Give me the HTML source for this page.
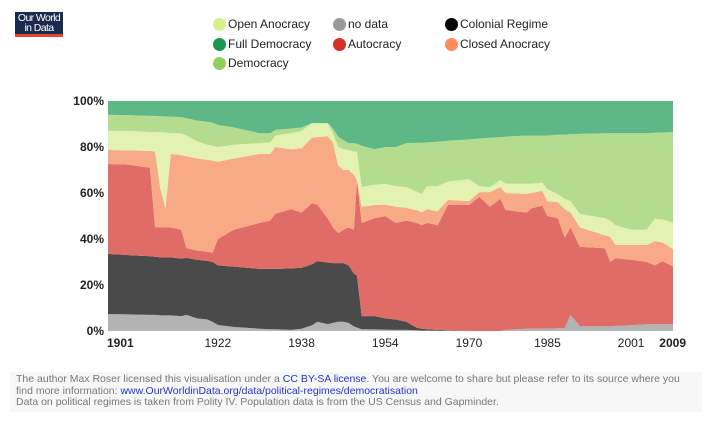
<!DOCTYPE html>
<html><head><meta charset="utf-8"><style>
body{margin:0;width:716px;height:432px;background:#fff;font-family:"Liberation Sans",sans-serif;overflow:hidden;position:relative}
.logo{position:absolute;left:15px;top:12px;width:48px;height:25px;background:#1a2a4f;border-bottom:3px solid #e6452b;color:#fff;font-size:10.5px;line-height:9.5px;text-align:center;letter-spacing:-0.6px;padding-top:2px;box-sizing:border-box}
.leg{position:absolute;font-size:12px;color:#222;display:flex;align-items:center;height:14px}
.leg i{display:inline-block;width:13px;height:13px;border-radius:50%;margin-right:2px}
.foot{position:absolute;left:10px;top:372px;width:692px;height:40px;background:#f7f7f7;font-size:10.5px;color:#777;line-height:11.5px;padding:2px 20px 2px 6px;box-sizing:border-box}
.foot a{color:#2233cc;text-decoration:none}
</style></head><body>
<div class="logo">Our World<br>in Data</div>
<div class="leg" style="left:213px;top:17px"><i style="background:#d9ef8b"></i>Open Anocracy</div>
<div class="leg" style="left:333px;top:17px"><i style="background:#999"></i>no data</div>
<div class="leg" style="left:445px;top:17px"><i style="background:#000"></i>Colonial Regime</div>
<div class="leg" style="left:213px;top:37px"><i style="background:#1a9850"></i>Full Democracy</div>
<div class="leg" style="left:333px;top:37px"><i style="background:#d73027"></i>Autocracy</div>
<div class="leg" style="left:445px;top:37px"><i style="background:#fc8d59"></i>Closed Anocracy</div>
<div class="leg" style="left:213px;top:56px"><i style="background:#91cf60"></i>Democracy</div>
<svg id="chart" width="716" height="432" style="position:absolute;left:0;top:0"></svg>
<div class="foot">The author Max Roser licensed this visualisation under a <a>CC BY-SA license</a>. You are welcome to share but please refer to its source where you find more information: <a>www.OurWorldinData.org/data/political-regimes/democratisation</a><br>Data on political regimes is taken from Polity IV. Population data is from the US Census and Gapminder.</div>
<script>
const years=[1901,1905,1909,1910,1911,1912,1913,1915,1916,1918,1920,1921,1922,1925,1930,1932,1933,1936,1938,1940,1941,1943,1944,1945,1946,1947,1948,1948.6,1949.5,1952,1954,1956,1958,1960,1961,1962,1964,1966,1970,1972,1974,1976,1977,1981,1982,1984,1985,1987,1988.3,1989.4,1991.2,1996,1997,1998,2001,2004,2005.5,2007,2009];
const noData=[7.4,7.2,7,7,6.8,6.8,6.8,6.5,7,5.5,5,4,2.6,1.8,1,0.8,0.8,0.5,1,2.5,4,3,3.5,4,4,3.5,2,1.5,0.8,0.7,0.6,0.5,0.5,0.3,0.2,0.2,0.1,0.1,0,0,0,0,0.5,1,1,1,1,1.2,1.2,7,2,2,2,2.2,2.5,3,3,3,3];
const colonial=[26.1,25.8,25.5,25.3,25.2,25.2,25.2,25,24.8,25.5,25.5,26,25.9,26.2,26,26.2,26.2,26.7,26.5,26.5,26.4,26.8,26,25.5,25.5,25,23,22.5,5.7,5.8,4.9,4.5,3.5,1.2,0.8,0.6,0.4,0.2,0,0,0,0,0,0,0,0,0,0,0,0,0,0,0,0,0,0,0,0,0];
const autocracy=[39.1,39.3,38.5,12.7,13,13,13,12.5,4.2,4,4,4,11.5,16,20,21,24,25.8,24,26.6,24.6,19.2,15.5,13.1,14.5,16.5,19,41.6,40.5,42.5,44.5,42,44,45.5,45,46.2,45.5,54.5,54.8,58.4,54,57.5,52.1,50.5,52.4,53.5,49,47.8,39.4,38,34.6,34,28,29.4,28.5,27,25.5,27.4,25];
const closedAnocracy=[6.1,6.2,7.3,33,17,8.5,32,32.5,40,40,40,40,33.6,31,30,29,29,26,28,28.4,29.3,35.6,37,29.4,26,25,24,0,7,5.8,5,7,5.6,5.5,5.6,6,6,2.2,1.7,2,6.4,5.1,7.4,8.1,6.6,6.5,6.5,7,12.4,6.6,8.4,5.6,11,5.8,6.4,7.4,10.5,8.1,7.6];
const openAnocracy=[8.3,8.5,8.2,8.5,24.5,32.8,9,9.5,9,7.5,6.5,6.5,6.4,6,4.7,5,5,7,7.5,6.4,6.1,5.8,4,8,9,8.7,10,12.4,8.6,8.7,9,9,9,8,8,10,11,8,9.5,2.6,2.1,3.1,4,4.4,4,3.6,5.1,3.5,4.5,4.9,5.9,7.4,7,8.6,6.6,6.6,9.8,10,11.4];
const democracy=[7,6.8,7,7,6.9,7,7.2,7,7.5,9,10,10,9.6,7.5,4.3,4,2.5,2,1.5,0,0,0,2,4.5,4,3,3.7,3.5,17.9,15.5,16,17,19.1,21.3,22.2,19,19.3,17.7,17.3,20.7,21.5,18.6,20.5,21,21,20.4,23.4,25.8,27.9,29,34.8,37,38,40,42,42,37.4,37.8,39.5];
const fullDemocracy=[6,6.2,6.5,6.5,6.6,6.7,6.8,7,7.5,8.5,9,9.5,10.4,11.5,14,14,12.5,12,11.5,9.6,9.6,9.6,12,15.5,17,18.3,18.3,18.5,19.5,21,20,20,18.3,18.2,18.2,18,17.7,17.3,16.7,16.3,16,15.7,15.5,15,15,15,15,14.7,14.6,14.5,14.3,14,14,14,14,14,13.8,13.7,13.5];
const xTicks=[1901,1922,1938,1954,1970,1985,2001,2009];
const yTicks=[0,20,40,60,80,100];

const NS="http://www.w3.org/2000/svg";
const svg=document.getElementById('chart');
const X0=108,X1=673,Y0=331,Y1=101;
const xs=y=>X0+(y-1901)/(2009-1901)*(X1-X0);
const ys=v=>Y0-v/100*(Y0-Y1);
const series=[
 {n:'no-data',d:noData,c:'#b3b3b3'},
 {n:'colonial-regime',d:colonial,c:'#4a4a4a'},
 {n:'autocracy',d:autocracy,c:'#e06c67'},
 {n:'closed-anocracy',d:closedAnocracy,c:'#f8aa86'},
 {n:'open-anocracy',d:openAnocracy,c:'#e3f2b1'},
 {n:'democracy',d:democracy,c:'#b3dc8f'},
 {n:'full-democracy',d:fullDemocracy,c:'#5db787'}];
let base=years.map(()=>0);
series.forEach(s=>{
  const top=base.map((b,i)=>b+s.d[i]);
  let p='M'+years.map((y,i)=>xs(y).toFixed(1)+','+ys(top[i]).toFixed(1)).join('L');
  for(let i=years.length-1;i>=0;i--)p+='L'+xs(years[i]).toFixed(1)+','+ys(base[i]).toFixed(1);
  const el=document.createElementNS(NS,'path');
  el.setAttribute('d',p+'Z');el.setAttribute('fill',s.c);
  
  
  svg.appendChild(el);
  base=top;
});
xTicks.forEach((t,i)=>{
  const el=document.createElementNS(NS,'text');
  el.setAttribute('x',xs(t));el.setAttribute('y',347);
  el.setAttribute('text-anchor',i==0?'start':(i==xTicks.length-1?'end':'middle'));
  if(i==0)el.setAttribute('x',xs(t)-1);
  if(i==xTicks.length-1)el.setAttribute('x',xs(t)+13);
  el.setAttribute('font-size','12');el.setAttribute('fill','#222');
  el.setAttribute('font-family','Liberation Sans, sans-serif');
  if(i==0||i==xTicks.length-1)el.setAttribute('font-weight','bold');
  el.textContent=t;
  
  
  svg.appendChild(el);
});
yTicks.forEach(t=>{
  const el=document.createElementNS(NS,'text');
  el.setAttribute('x',104);el.setAttribute('y',ys(t)+4);
  el.setAttribute('text-anchor','end');el.setAttribute('font-size','12');
  el.setAttribute('font-weight','bold');el.setAttribute('fill','#222');
  el.setAttribute('font-family','Liberation Sans, sans-serif');
  el.textContent=t+'%';
  
  
  svg.appendChild(el);
});
</script>
</body></html>
